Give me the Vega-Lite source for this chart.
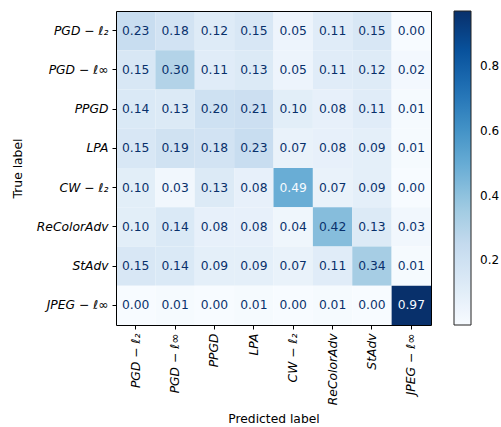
{
  "$schema": "https://vega.github.io/schema/vega-lite/v6.json",
  "width": 315,
  "height": 314,
  "autosize": {"type": "none"},
  "padding": {"left": 116, "top": 11, "right": 70, "bottom": 102},
  "background": "white",
  "data": {
    "values": [
      {"t": "PGD − ℓ₂", "p": "PGD − ℓ₂", "v": 0.23},
      {"t": "PGD − ℓ₂", "p": "PGD − ℓ∞", "v": 0.18},
      {"t": "PGD − ℓ₂", "p": "PPGD", "v": 0.12},
      {"t": "PGD − ℓ₂", "p": "LPA", "v": 0.15},
      {"t": "PGD − ℓ₂", "p": "CW − ℓ₂", "v": 0.05},
      {"t": "PGD − ℓ₂", "p": "ReColorAdv", "v": 0.11},
      {"t": "PGD − ℓ₂", "p": "StAdv", "v": 0.15},
      {"t": "PGD − ℓ₂", "p": "JPEG − ℓ∞", "v": 0.00},
      {"t": "PGD − ℓ∞", "p": "PGD − ℓ₂", "v": 0.15},
      {"t": "PGD − ℓ∞", "p": "PGD − ℓ∞", "v": 0.30},
      {"t": "PGD − ℓ∞", "p": "PPGD", "v": 0.11},
      {"t": "PGD − ℓ∞", "p": "LPA", "v": 0.13},
      {"t": "PGD − ℓ∞", "p": "CW − ℓ₂", "v": 0.05},
      {"t": "PGD − ℓ∞", "p": "ReColorAdv", "v": 0.11},
      {"t": "PGD − ℓ∞", "p": "StAdv", "v": 0.12},
      {"t": "PGD − ℓ∞", "p": "JPEG − ℓ∞", "v": 0.02},
      {"t": "PPGD", "p": "PGD − ℓ₂", "v": 0.14},
      {"t": "PPGD", "p": "PGD − ℓ∞", "v": 0.13},
      {"t": "PPGD", "p": "PPGD", "v": 0.20},
      {"t": "PPGD", "p": "LPA", "v": 0.21},
      {"t": "PPGD", "p": "CW − ℓ₂", "v": 0.10},
      {"t": "PPGD", "p": "ReColorAdv", "v": 0.08},
      {"t": "PPGD", "p": "StAdv", "v": 0.11},
      {"t": "PPGD", "p": "JPEG − ℓ∞", "v": 0.01},
      {"t": "LPA", "p": "PGD − ℓ₂", "v": 0.15},
      {"t": "LPA", "p": "PGD − ℓ∞", "v": 0.19},
      {"t": "LPA", "p": "PPGD", "v": 0.18},
      {"t": "LPA", "p": "LPA", "v": 0.23},
      {"t": "LPA", "p": "CW − ℓ₂", "v": 0.07},
      {"t": "LPA", "p": "ReColorAdv", "v": 0.08},
      {"t": "LPA", "p": "StAdv", "v": 0.09},
      {"t": "LPA", "p": "JPEG − ℓ∞", "v": 0.01},
      {"t": "CW − ℓ₂", "p": "PGD − ℓ₂", "v": 0.10},
      {"t": "CW − ℓ₂", "p": "PGD − ℓ∞", "v": 0.03},
      {"t": "CW − ℓ₂", "p": "PPGD", "v": 0.13},
      {"t": "CW − ℓ₂", "p": "LPA", "v": 0.08},
      {"t": "CW − ℓ₂", "p": "CW − ℓ₂", "v": 0.49},
      {"t": "CW − ℓ₂", "p": "ReColorAdv", "v": 0.07},
      {"t": "CW − ℓ₂", "p": "StAdv", "v": 0.09},
      {"t": "CW − ℓ₂", "p": "JPEG − ℓ∞", "v": 0.00},
      {"t": "ReColorAdv", "p": "PGD − ℓ₂", "v": 0.10},
      {"t": "ReColorAdv", "p": "PGD − ℓ∞", "v": 0.14},
      {"t": "ReColorAdv", "p": "PPGD", "v": 0.08},
      {"t": "ReColorAdv", "p": "LPA", "v": 0.08},
      {"t": "ReColorAdv", "p": "CW − ℓ₂", "v": 0.04},
      {"t": "ReColorAdv", "p": "ReColorAdv", "v": 0.42},
      {"t": "ReColorAdv", "p": "StAdv", "v": 0.13},
      {"t": "ReColorAdv", "p": "JPEG − ℓ∞", "v": 0.03},
      {"t": "StAdv", "p": "PGD − ℓ₂", "v": 0.15},
      {"t": "StAdv", "p": "PGD − ℓ∞", "v": 0.14},
      {"t": "StAdv", "p": "PPGD", "v": 0.09},
      {"t": "StAdv", "p": "LPA", "v": 0.09},
      {"t": "StAdv", "p": "CW − ℓ₂", "v": 0.07},
      {"t": "StAdv", "p": "ReColorAdv", "v": 0.11},
      {"t": "StAdv", "p": "StAdv", "v": 0.34},
      {"t": "StAdv", "p": "JPEG − ℓ∞", "v": 0.01},
      {"t": "JPEG − ℓ∞", "p": "PGD − ℓ₂", "v": 0.00},
      {"t": "JPEG − ℓ∞", "p": "PGD − ℓ∞", "v": 0.01},
      {"t": "JPEG − ℓ∞", "p": "PPGD", "v": 0.00},
      {"t": "JPEG − ℓ∞", "p": "LPA", "v": 0.01},
      {"t": "JPEG − ℓ∞", "p": "CW − ℓ₂", "v": 0.00},
      {"t": "JPEG − ℓ∞", "p": "ReColorAdv", "v": 0.01},
      {"t": "JPEG − ℓ∞", "p": "StAdv", "v": 0.00},
      {"t": "JPEG − ℓ∞", "p": "JPEG − ℓ∞", "v": 0.97}
    ]
  },
  "layer": [
    {
      "mark": {"type": "rect"},
      "encoding": {
        "x": {
          "field": "p", "type": "nominal",
          "sort": ["PGD − ℓ₂", "PGD − ℓ∞", "PPGD", "LPA", "CW − ℓ₂", "ReColorAdv", "StAdv", "JPEG − ℓ∞"],
          "scale": {"padding": 0},
          "axis": {
            "title": "Predicted label", "orient": "bottom", "labelAngle": -90,
            "labelPadding": 4, "titlePadding": 8, "labelFontStyle": "italic", "zindex": 1
          }
        },
        "y": {
          "field": "t", "type": "nominal",
          "sort": ["PGD − ℓ₂", "PGD − ℓ∞", "PPGD", "LPA", "CW − ℓ₂", "ReColorAdv", "StAdv", "JPEG − ℓ∞"],
          "scale": {"padding": 0},
          "axis": {
            "title": "True label", "orient": "left",
            "labelPadding": 4, "titlePadding": 12, "labelFontStyle": "italic", "zindex": 1
          }
        },
        "color": {
          "field": "v", "type": "quantitative",
          "scale": {
            "domain": [0, 0.12125, 0.2425, 0.36375, 0.485, 0.60625, 0.7275, 0.84875, 0.97],
            "range": ["#f7fbff", "#deebf7", "#c6dbef", "#9ecae1", "#6baed6", "#4292c6", "#2171b5", "#08519c", "#08306b"],
            "interpolate": "rgb"
          },
          "legend": {
            "title": null, "orient": "none", "legendX": 338, "legendY": 0,
            "direction": "vertical", "gradientLength": 314, "gradientThickness": 17,
            "gradientStrokeColor": "#222222", "gradientStrokeWidth": 1,
            "values": [0.2, 0.4, 0.6, 0.8], "format": ".1f",
            "labelFont": "DejaVu Sans", "labelFontSize": 12, "labelColor": "black", "labelOffset": 9
          }
        }
      }
    },
    {
      "mark": {"type": "text", "font": "DejaVu Sans", "fontSize": 12.3},
      "encoding": {
        "x": {
          "field": "p", "type": "nominal",
          "sort": ["PGD − ℓ₂", "PGD − ℓ∞", "PPGD", "LPA", "CW − ℓ₂", "ReColorAdv", "StAdv", "JPEG − ℓ∞"],
          "axis": {"orient": "top", "labels": false, "ticks": false, "title": null, "zindex": 1}
        },
        "y": {
          "field": "t", "type": "nominal",
          "sort": ["PGD − ℓ₂", "PGD − ℓ∞", "PPGD", "LPA", "CW − ℓ₂", "ReColorAdv", "StAdv", "JPEG − ℓ∞"],
          "axis": {"orient": "right", "labels": false, "ticks": false, "title": null, "zindex": 1}
        },
        "text": {"field": "v", "type": "quantitative", "format": ".2f"},
        "color": {
          "condition": {"test": "datum.v > 0.485", "value": "#f7fbff"},
          "value": "#08306b"
        }
      }
    }
  ],
  "resolve": {"axis": {"x": "independent", "y": "independent"}},
  "config": {
    "view": {"stroke": null},
    "font": "DejaVu Sans",
    "axis": {
      "labelFont": "DejaVu Sans", "labelFontSize": 12.3, "labelColor": "black",
      "titleFont": "DejaVu Sans", "titleFontSize": 12.3, "titleFontWeight": "normal", "titleColor": "black",
      "tickColor": "black", "tickSize": 4, "domainColor": "black", "domainWidth": 1, "grid": false
    }
  }
}
